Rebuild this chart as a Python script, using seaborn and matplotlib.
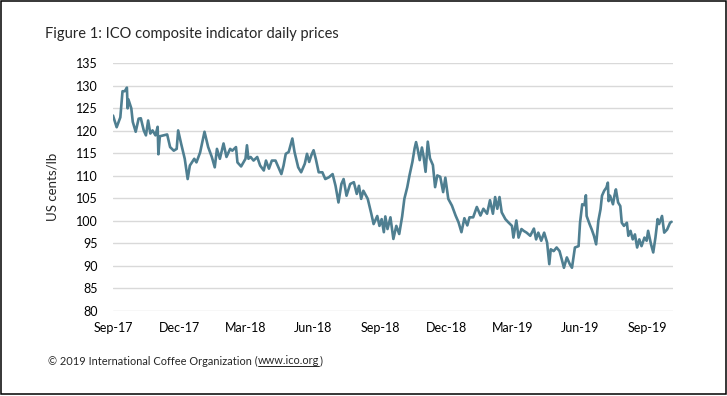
import numpy as np
import pandas as pd
import matplotlib
matplotlib.use("Agg")
import matplotlib.pyplot as plt
import matplotlib.dates as mdates
import matplotlib.transforms as mtransforms
from matplotlib.patches import Rectangle
from matplotlib.lines import Line2D
import seaborn as sns

# ICO composite indicator, US cents/lb
dates_2017 = [
    "2017-09-01", "2017-09-06", "2017-09-11", "2017-09-14", "2017-09-17", "2017-09-20", "2017-09-21",
    "2017-09-22", "2017-09-26", "2017-09-28",
    "2017-10-02", "2017-10-06", "2017-10-09", "2017-10-13", "2017-10-16", "2017-10-19", "2017-10-22",
    "2017-10-25", "2017-10-29",
    "2017-11-01", "2017-11-02", "2017-11-04", "2017-11-09", "2017-11-14", "2017-11-18", "2017-11-23",
    "2017-11-27", "2017-11-29",
    "2017-12-03", "2017-12-08", "2017-12-12", "2017-12-15", "2017-12-21", "2017-12-24", "2017-12-29",
]
prices_2017 = [
    123.4, 120.8, 123.0, 128.8, 128.8, 129.6, 125.0, 127.0, 125.0, 122.0,
    119.8, 122.7, 122.8, 120.1, 119.0, 122.3, 119.4, 120.1, 119.0,
    120.9, 114.8, 118.8, 119.0, 119.2, 116.4, 115.6, 116.0, 120.1,
    117.2, 113.8, 109.3, 112.3, 113.8, 113.0, 115.2,
]

dates_2018 = [
    "2018-01-04", "2018-01-09", "2018-01-14", "2018-01-18", "2018-01-21", "2018-01-25", "2018-01-30",
    "2018-02-03", "2018-02-08", "2018-02-11", "2018-02-16", "2018-02-18", "2018-02-23",
    "2018-03-01", "2018-03-03", "2018-03-05", "2018-03-08", "2018-03-12", "2018-03-17", "2018-03-21",
    "2018-03-26", "2018-03-29",
    "2018-04-02", "2018-04-06", "2018-04-11", "2018-04-15", "2018-04-19", "2018-04-22", "2018-04-25",
    "2018-04-29",
    "2018-05-04", "2018-05-07", "2018-05-12", "2018-05-16", "2018-05-21", "2018-05-24", "2018-05-27",
    "2018-05-30",
    "2018-06-02", "2018-06-05", "2018-06-09", "2018-06-14", "2018-06-18", "2018-06-23", "2018-06-28",
    "2018-07-02", "2018-07-06", "2018-07-10", "2018-07-13", "2018-07-17", "2018-07-22", "2018-07-27",
    "2018-07-31",
    "2018-08-03", "2018-08-06", "2018-08-09", "2018-08-15", "2018-08-20", "2018-08-23", "2018-08-28",
    "2018-08-31",
    "2018-09-03", "2018-09-06", "2018-09-08", "2018-09-11", "2018-09-15", "2018-09-19", "2018-09-23",
    "2018-09-27",
    "2018-10-01", "2018-10-04", "2018-10-08", "2018-10-11", "2018-10-15", "2018-10-18", "2018-10-20",
    "2018-10-22", "2018-10-25", "2018-10-28", "2018-10-30",
    "2018-11-02", "2018-11-05", "2018-11-08", "2018-11-12", "2018-11-15", "2018-11-18", "2018-11-22",
    "2018-11-26", "2018-11-29",
    "2018-12-03", "2018-12-08", "2018-12-13", "2018-12-17", "2018-12-21", "2018-12-25", "2018-12-29",
]
prices_2018 = [
    119.8, 116.4, 114.2, 111.9, 116.0, 113.8, 117.2,
    114.2, 116.0, 115.6, 116.4, 113.0, 112.1,
    113.8, 116.8, 113.8, 114.2, 113.4, 114.2, 112.3, 111.2, 113.4,
    111.6, 113.4, 113.4, 111.9, 110.4, 112.3, 114.9, 115.3,
    118.3, 115.3, 111.9, 110.8, 112.7, 114.9, 113.1, 114.6,
    115.7, 113.8, 110.8, 110.8, 109.3, 109.7, 110.4,
    107.8, 104.1, 108.2, 109.3, 105.6, 108.2, 108.6, 106.0,
    107.8, 104.9, 106.7, 104.9, 101.5, 99.3, 101.1, 98.9,
    100.4, 97.5, 101.0, 98.2, 100.8, 96.0, 98.9, 97.1,
    101.0, 104.9, 107.5, 110.1, 113.1, 116.1, 117.5, 116.1, 113.5, 116.3, 114.6,
    110.9, 117.6, 113.9, 112.4, 107.5, 110.1, 109.8, 106.4, 109.6,
    104.9, 103.4, 101.2, 99.7, 97.5, 100.6, 99.0,
]

dates_2019 = [
    "2019-01-01", "2019-01-06", "2019-01-11", "2019-01-16", "2019-01-20", "2019-01-25", "2019-01-29",
    "2019-02-02", "2019-02-05", "2019-02-08", "2019-02-11", "2019-02-14", "2019-02-19", "2019-02-23",
    "2019-02-28",
    "2019-03-02", "2019-03-06", "2019-03-09", "2019-03-13", "2019-03-16", "2019-03-20", "2019-03-25",
    "2019-03-30",
    "2019-04-02", "2019-04-05", "2019-04-09", "2019-04-13", "2019-04-17", "2019-04-20", "2019-04-22",
    "2019-04-26", "2019-04-30",
    "2019-05-04", "2019-05-07", "2019-05-10", "2019-05-14", "2019-05-18", "2019-05-21", "2019-05-25",
    "2019-05-30",
    "2019-06-01", "2019-06-04", "2019-06-07", "2019-06-09", "2019-06-10", "2019-06-14", "2019-06-17",
    "2019-06-20", "2019-06-23", "2019-06-26", "2019-06-29",
    "2019-07-01", "2019-07-04", "2019-07-07", "2019-07-09", "2019-07-10", "2019-07-12", "2019-07-16",
    "2019-07-18", "2019-07-20", "2019-07-23", "2019-07-26", "2019-07-28", "2019-07-31",
    "2019-08-04", "2019-08-06", "2019-08-09", "2019-08-12", "2019-08-15", "2019-08-18", "2019-08-21",
    "2019-08-24", "2019-08-28", "2019-08-31",
    "2019-09-02", "2019-09-06", "2019-09-09", "2019-09-12", "2019-09-15", "2019-09-17", "2019-09-21",
    "2019-09-24", "2019-09-28",
    "2019-10-02", "2019-10-04",
]
prices_2019 = [
    100.8, 100.8, 103.1, 101.2, 102.7, 101.6, 104.6,
    101.6, 105.3, 102.7, 105.3, 101.9, 100.4, 99.7, 98.9,
    96.3, 100.1, 96.3, 98.2, 97.8, 97.4, 96.7, 98.3,
    95.9, 97.4, 95.6, 97.4, 95.2, 90.4, 93.7, 93.3, 94.1,
    93.3, 91.5, 89.6, 91.9, 90.4, 89.6, 94.1, 94.4,
    99.6, 103.7, 103.5, 105.7, 101.1, 99.3, 98.1, 96.7, 94.8, 100.0, 102.6,
    105.6, 106.7, 107.4, 108.5, 104.4, 105.6, 103.7, 105.6, 107.0, 104.1, 103.3, 99.6, 98.9,
    99.6, 96.7, 97.8, 95.9, 97.0, 94.1, 95.9, 94.4, 96.3, 95.6,
    97.8, 94.8, 93.0, 96.3, 100.4, 99.3, 101.1, 97.4, 98.1,
    99.6, 99.8,
]

y_ticks = list(range(80, 136, 5))

LINE_COLOR = "#4f7f91"
GRID_COLOR = "#d9d9d9"
FONT = "Lato"


def main():
    df = pd.DataFrame({
        "date": pd.to_datetime(dates_2017 + dates_2018 + dates_2019),
        "price": prices_2017 + prices_2018 + prices_2019,
    })

    sns.set_theme(style="white")
    plt.rcParams["font.family"] = [FONT, "DejaVu Sans"]

    W, H = 727, 396
    fig = plt.figure(figsize=(W / 100, H / 100), dpi=100)
    ax = fig.add_axes([113 / W, 1 - 311 / H, 560 / W, (311 - 63.3) / H])

    sns.lineplot(data=df, x="date", y="price", ax=ax, color=LINE_COLOR, linewidth=1.9)

    ax.set_ylim(80, 135)
    ax.set_yticks(y_ticks)
    ax.set_xlim(pd.Timestamp("2017-09-01"), pd.Timestamp("2019-10-06"))
    ax.xaxis.set_major_locator(mdates.MonthLocator(bymonth=[3, 6, 9, 12]))
    ax.xaxis.set_major_formatter(mdates.DateFormatter("%b-%y"))

    ax.grid(axis="y", color=GRID_COLOR, linewidth=1.0)
    ax.set_axisbelow(True)
    for s in ax.spines.values():
        s.set_visible(False)
    ax.tick_params(axis="both", length=0, labelsize=9, colors="black")
    ax.tick_params(axis="y", pad=11)
    ax.tick_params(axis="x", pad=8)
    ax.set_xlabel("")
    ax.set_ylabel("")

    px = mtransforms.IdentityTransform()
    fig.text(52.5, H - 187, "US cents/lb", transform=px, rotation=90,
             ha="center", va="center", fontsize=9.5)
    fig.text(45, H - 34, "Figure 1: ICO composite indicator daily prices", transform=px,
             ha="left", va="center", fontsize=10.5)

    # footer with underlined link
    fy = H - 361
    fs = 7.9
    r = fig.canvas.get_renderer()
    t1 = fig.text(48, fy, "\u00a9 2019 International Coffee Organization (", transform=px,
                  ha="left", va="center", fontsize=fs)
    b1 = t1.get_window_extent(r)
    t2 = fig.text(b1.x1, fy, "www.ico.org", transform=px, ha="left", va="center", fontsize=fs)
    b2 = t2.get_window_extent(r)
    fig.text(b2.x1, fy, ")", transform=px, ha="left", va="center", fontsize=fs)
    fig.add_artist(Line2D([b2.x0, b2.x1], [b2.y0 + 1, b2.y0 + 1], transform=px,
                          color="black", linewidth=0.6))

    # outer frame
    fig.add_artist(Rectangle((0.8, 1.8), 724.8, 393.4, transform=px, fill=False,
                             edgecolor="black", linewidth=1.1))

    fig.savefig("out.png", dpi=100)
    plt.close(fig)


if __name__ == "__main__":
    main()
